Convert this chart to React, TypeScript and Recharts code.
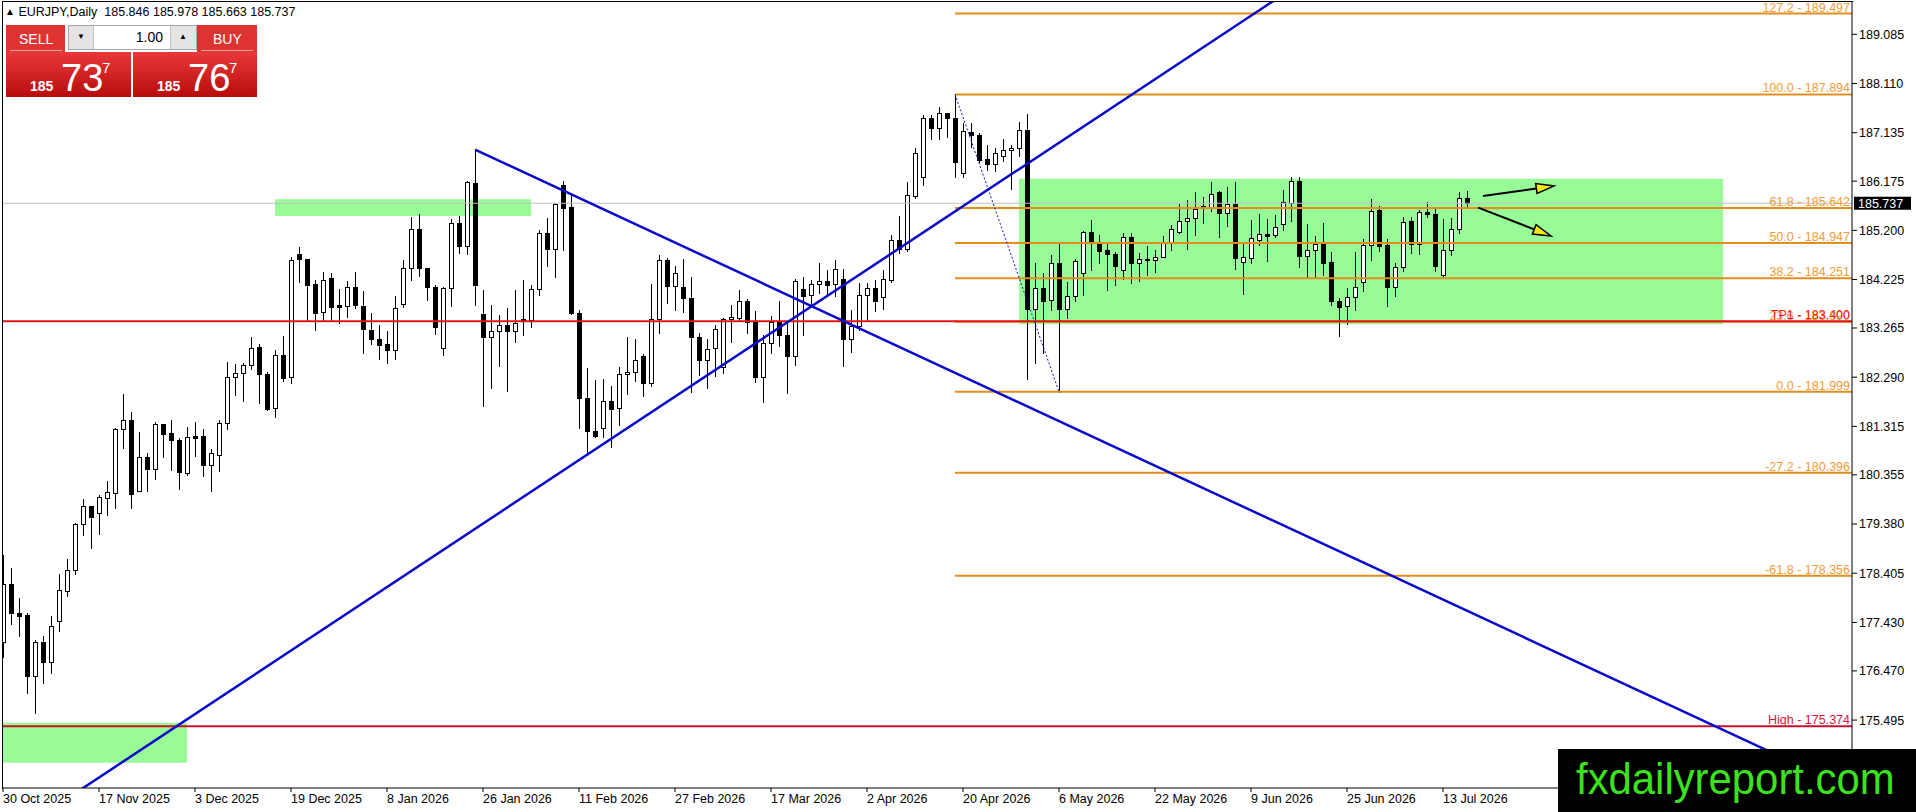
import React from 'react';
import { ComposedChart, Bar, XAxis, YAxis, ReferenceLine, ReferenceArea } from 'recharts';

// EURJPY daily candles, bar 0 = 30 Oct 2025
const opens = [
  177.05, 178.19, 177.61, 177.58, 176.36, 177.04, 176.65, 177.46, 178.05, 178.46, 179.39, 179.73, 179.59, 179.89, 180.0, 181.26,
  181.45, 180.03, 180.7, 180.48, 181.36, 181.18, 181.04, 180.4, 181.12, 181.12, 180.54, 180.75, 181.38, 182.3, 182.38, 182.54,
  182.88, 182.35, 181.67, 182.73, 182.29, 184.73, 184.63, 184.13, 183.59, 184.26, 183.72, 183.71, 184.07, 183.71, 183.22, 183.04,
  182.94, 182.82, 183.74, 184.45, 185.22, 184.45, 184.08, 182.86, 184.05, 185.35, 184.88, 186.13, 183.54, 183.09, 183.2, 183.32,
  183.2, 183.44, 183.42, 184.04, 185.14, 184.84, 186.1, 185.67, 183.57, 181.87, 181.23, 181.28, 181.82, 181.67, 182.35, 182.4,
  182.7, 182.18, 183.44, 184.61, 184.1, 184.07, 183.85, 183.09, 182.64, 182.86, 182.5, 183.44, 183.47, 183.8, 183.39, 182.3,
  182.97, 183.39, 183.13, 182.7, 184.04, 183.91, 184.13, 184.2, 184.13, 184.23, 183.04, 183.3, 183.92, 184.05, 183.87, 184.22,
  185.01, 184.84, 185.88, 186.26, 187.42, 187.22, 187.52, 187.42, 186.33, 187.14, 187.08, 186.61, 186.52, 186.67, 186.8, 186.84,
  187.19, 183.65, 184.05, 183.81, 184.55, 183.65, 183.9, 184.35, 185.16, 184.94, 184.81, 184.74, 184.41, 185.06, 184.55, 184.64,
  184.62, 184.665, 184.94, 185.17, 185.38, 185.44, 185.66, 185.66, 185.95, 185.55, 185.72, 184.58, 184.66, 185.01, 185.12, 185.1,
  185.32, 185.75, 186.17, 184.7, 184.82, 184.93, 184.57, 183.79, 183.7, 183.87, 184.18, 184.9, 185.6, 184.91, 184.08, 184.48,
  185.38, 184.93, 185.56, 185.52, 184.31, 184.82, 185.22, 185.846,
];
const highs = [
  178.77, 178.51, 177.91, 177.62, 177.08, 177.16, 177.56, 178.39, 178.68, 179.41, 179.87, 179.73, 179.95, 180.23, 181.28, 181.96,
  181.6, 181.2, 180.78, 181.4, 181.36, 181.45, 181.08, 181.3, 181.4, 181.26, 180.87, 181.44, 182.59, 182.56, 182.58, 183.08,
  182.95, 182.4, 182.83, 183.11, 184.68, 184.86, 184.63, 184.22, 184.37, 184.35, 184.03, 184.19, 184.37, 183.99, 183.57, 183.32,
  183.2, 183.9, 184.61, 185.47, 185.52, 184.45, 184.12, 184.08, 185.42, 185.48, 186.18, 186.8, 184.02, 183.73, 183.53, 183.67,
  184.02, 184.22, 184.12, 185.21, 185.44, 185.75, 186.18, 185.9, 183.62, 182.47, 182.23, 182.25, 182.11, 182.5, 183.09, 183.05,
  182.75, 184.13, 184.71, 184.65, 184.49, 184.63, 184.28, 183.16, 183.04, 183.32, 183.47, 183.72, 184.02, 183.83, 183.61, 183.13,
  183.5, 183.79, 183.36, 184.23, 184.28, 184.22, 184.56, 184.41, 184.61, 184.43, 183.62, 184.15, 184.15, 184.22, 184.41, 185.11,
  185.48, 186.16, 186.83, 187.49, 187.49, 187.65, 187.53, 187.894, 187.32, 187.32, 187.12, 186.89, 186.83, 187.02, 186.89, 187.35,
  187.51, 184.55, 184.36, 184.71, 184.97, 184.18, 184.64, 185.19, 185.4, 185.11, 184.97, 184.77, 185.14, 185.15, 184.76, 184.89,
  184.81, 185.09, 185.31, 185.73, 185.81, 185.95, 185.87, 186.16, 185.97, 186.05, 186.16, 184.93, 185.4, 185.52, 185.42, 185.5,
  186.0, 186.26, 186.26, 185.33, 185.09, 185.35, 184.78, 183.85, 184.05, 184.78, 185.03, 185.82, 185.68, 185.02, 184.55, 185.47,
  185.47, 185.6, 185.77, 185.62, 185.42, 185.44, 185.95, 185.978,
];
const lows = [
  176.75, 177.39, 177.17, 176.04, 175.64, 176.22, 176.43, 177.27, 177.95, 178.39, 179.17, 178.91, 179.19, 179.55, 179.7, 180.89,
  179.7, 180.03, 180.04, 180.28, 180.7, 180.45, 180.08, 180.35, 180.73, 180.34, 180.04, 180.44, 181.27, 181.94, 181.82, 182.45,
  181.77, 181.64, 181.51, 182.22, 182.18, 184.18, 183.42, 183.22, 183.42, 183.42, 183.36, 183.48, 183.66, 182.76, 182.95, 182.66,
  182.58, 182.66, 183.69, 184.22, 184.29, 183.82, 183.15, 182.73, 183.71, 184.76, 184.74, 183.73, 181.72, 182.07, 182.52, 182.02,
  182.98, 183.13, 183.29, 183.92, 184.49, 184.28, 184.81, 183.55, 181.28, 180.75, 181.1, 181.11, 180.91, 181.34, 181.96, 182.22,
  181.92, 182.12, 183.16, 183.77, 183.63, 183.59, 182.0, 182.33, 182.07, 182.31, 182.37, 182.99, 183.42, 183.16, 182.2, 181.8,
  182.76, 182.91, 181.98, 182.53, 183.13, 183.7, 183.95, 183.92, 183.89, 182.51, 182.78, 183.22, 183.42, 183.61, 183.65, 184.17,
  184.76, 184.8, 185.85, 186.1, 187.02, 187.02, 187.04, 186.26, 186.26, 186.86, 186.56, 186.4, 186.38, 186.58, 186.01, 186.67,
  182.25, 182.58, 182.76, 183.62, 181.999, 183.46, 183.79, 183.92, 184.41, 184.56, 184.02, 184.12, 184.23, 184.15, 184.2, 184.31,
  184.38, 184.665, 184.81, 185.14, 184.84, 185.11, 185.34, 185.59, 185.06, 185.29, 184.44, 183.94, 184.55, 184.9, 184.6, 185.07,
  185.21, 185.38, 184.48, 184.27, 184.27, 184.32, 183.72, 183.11, 183.34, 183.63, 184.0, 184.61, 184.8, 183.7, 183.89, 184.4,
  184.76, 184.73, 185.47, 184.4, 184.29, 184.71, 185.14, 185.663,
];
const closes = [
  178.19, 177.62, 177.56, 176.36, 177.04, 176.65, 177.36, 178.07, 178.47, 179.39, 179.73, 179.51, 179.91, 180.01, 181.26, 181.45,
  179.98, 180.7, 180.48, 181.36, 181.17, 181.05, 180.42, 181.1, 181.09, 180.54, 180.78, 181.38, 182.3, 182.38, 182.54, 182.86,
  182.35, 181.66, 182.73, 182.28, 184.61, 184.64, 184.12, 183.57, 184.22, 183.69, 183.69, 184.07, 183.73, 183.24, 183.04, 182.93,
  182.82, 183.67, 184.45, 185.22, 184.45, 184.07, 183.28, 184.05, 185.35, 184.88, 186.15, 184.12, 183.09, 183.2, 183.32, 183.2,
  183.36, 183.42, 184.04, 185.14, 184.84, 185.72, 185.65, 183.57, 181.87, 181.23, 181.12, 181.82, 181.65, 182.35, 182.4, 182.63,
  182.18, 183.44, 184.61, 184.1, 184.35, 183.85, 183.09, 182.64, 182.84, 183.24, 183.44, 183.48, 183.8, 183.39, 182.29, 182.97,
  183.39, 183.13, 182.7, 184.2, 183.9, 184.13, 184.19, 184.12, 184.43, 183.04, 183.3, 183.92, 184.05, 183.79, 184.23, 185.01,
  184.84, 185.91, 186.73, 187.42, 187.22, 187.52, 187.42, 186.56, 187.16, 187.08, 186.59, 186.52, 186.73, 186.79, 186.84, 187.19,
  183.65, 184.05, 183.79, 184.55, 183.65, 183.9, 184.6, 185.16, 184.96, 184.8, 184.74, 184.49, 185.07, 184.55, 184.64, 184.62,
  184.665, 184.94, 185.22, 185.39, 185.44, 185.63, 185.68, 185.93, 185.55, 185.72, 184.66, 184.67, 185.04, 185.12, 185.09, 185.26,
  185.76, 186.17, 184.7, 184.82, 184.92, 184.56, 183.79, 183.69, 183.87, 184.07, 184.9, 185.59, 184.89, 184.08, 184.48, 185.37,
  184.93, 185.56, 185.52, 184.49, 184.82, 185.22, 185.85, 185.737,
];

const dateTickBars = [0, 12, 24, 36, 48, 60, 72, 84, 96, 108, 120, 132, 144, 156, 168, 180];
const dateTickLabels = [
  '30 Oct 2025', '17 Nov 2025', '3 Dec 2025', '19 Dec 2025', '8 Jan 2026', '26 Jan 2026', '11 Feb 2026', '27 Feb 2026',
  '17 Mar 2026', '2 Apr 2026', '20 Apr 2026', '6 May 2026', '22 May 2026', '9 Jun 2026', '25 Jun 2026', '13 Jul 2026',
];
const priceTicks = [
  175.495, 176.47, 177.43, 178.405, 179.38, 180.355, 181.315, 182.29, 183.265, 184.225, 185.2, 186.175, 187.135, 188.11, 189.085,
];

// fibonacci drawn from bar 119 high to bar 132 low
const fibNames = ['127.2', '100.0', '61.8', '50.0', '38.2', '23.6', '0.0', '-27.2', '-61.8'];
const fibPrices = [189.497, 187.894, 185.642, 184.947, 184.251, 183.39, 181.999, 180.396, 178.356];

// rectangles: [from bar, to bar], [low, high]
const zoneBars = [[34, 66], [127, 215], [-0.125, 23]];
const zonePrices = [[185.485, 185.815], [183.34, 186.22], [174.65, 175.44]];

// trend lines and arrows: [bar a, bar b], [price a, price b]
const trendBars = [[59, 240], [-10, 170]];
const trendPrices = [[186.8, 173.46], [172.05, 190.92]];
const arrowBars = [[185.0, 193.9], [184.4, 193.5]];
const arrowPrices = [[185.88, 186.08], [185.65, 185.09]];

const lastPrice = 185.737;
const tp1 = 183.4;
const highLevel = 175.374;

const X_MIN = -0.125;
const X_MAX = 231.125;
const Y_MIN = 174.149;
const Y_MAX = 189.725;

const FONT = '"Liberation Sans", Arial, sans-serif';

const data = opens.map((o, i) => ({
  i,
  o,
  h: highs[i],
  l: lows[i],
  c: closes[i],
  range: [lows[i], highs[i]],
}));

function Candle(props: any) {
  const { x, y, width, height, payload } = props;
  if (!payload) return null;
  const { o, h, l, c } = payload;
  const top = Math.min(y, y + height);
  const span = Math.abs(height);
  const k = h > l ? span / (h - l) : 0;
  const py = (v: number) => top + (h - v) * k;
  const cx = Math.round(x + width / 2);
  const bTop = Math.round(py(Math.max(o, c)));
  const bBot = Math.round(py(Math.min(o, c)));
  const bh = Math.max(bBot - bTop, 1);
  return (
    <g>
      <line x1={cx + 0.5} x2={cx + 0.5} y1={Math.round(top)} y2={Math.round(top + span) + 1} stroke="#000" strokeWidth={1} />
      {c >= o ? (
        <rect x={cx - 1.5} y={bTop + 0.5} width={4} height={bh} fill="#fff" stroke="#000" strokeWidth={1} />
      ) : (
        <rect x={cx - 2} y={bTop} width={5} height={bh + 1} fill="#000" />
      )}
    </g>
  );
}

const DateTick = (props: any) => {
  const { x, y, payload } = props;
  const idx = dateTickBars.indexOf(payload.value);
  return (
    <text x={x} y={y} dy="0.71em" textAnchor="start" fontSize={12.5} fill="#000" fontFamily={FONT}>
      {dateTickLabels[idx]}
    </text>
  );
};

const levelShape = (color: string, text: string, textColor: string) => (p: any) => (
  <g>
    <line x1={p.x1} y1={p.y1} x2={p.x2} y2={p.y2} stroke={color} strokeWidth={2} />
    <text x={1850} y={p.y1 - 2} textAnchor="end" fill={textColor} fontSize={12.5} fontFamily={FONT}>
      {text}
    </text>
  </g>
);

const arrowShape = (p: any) => {
  const dx = p.x2 - p.x1;
  const dy = p.y2 - p.y1;
  const len = Math.sqrt(dx * dx + dy * dy);
  const ux = dx / len;
  const uy = dy / len;
  const bx = p.x2 - ux * 18;
  const by = p.y2 - uy * 18;
  const pts = `${p.x2},${p.y2} ${bx - uy * 5},${by + ux * 5} ${bx + uy * 5},${by - ux * 5}`;
  return (
    <g>
      <line x1={p.x1} y1={p.y1} x2={bx} y2={by} stroke="#000" strokeWidth={2} />
      <polygon points={pts} fill="#f5e616" stroke="#000" strokeWidth={1.5} />
    </g>
  );
};

const priceTagShape = (p: any) => (
  <g>
    <line x1={p.x1} y1={p.y1} x2={p.x2} y2={p.y2} stroke="#c0c0c0" strokeWidth={1} />
    <rect x={1854} y={p.y1 - 6.5} width={57} height={13} fill="#000" />
    <text x={1858} y={p.y1 + 4.5} fill="#fff" fontSize={12.5} fontFamily={FONT}>
      {lastPrice.toFixed(3)}
    </text>
  </g>
);

function TradePanel() {
  const red = 'linear-gradient(#e8393a, #b80c0c)';
  const big = { position: 'absolute' as const, color: '#fff', fontFamily: FONT, lineHeight: 1 };
  const priceBox = (left: number, width: number, small: string, main: string, sup: string) => (
    <div style={{ position: 'absolute', left, top: 52, width, height: 45, background: red }}>
      <span style={{ ...big, left: 24, top: 27, fontSize: 14, fontWeight: 700 }}>{small}</span>
      <span style={{ ...big, left: 55, top: 7, fontSize: 38 }}>{main}</span>
      <span style={{ ...big, left: 96, top: 8, fontSize: 15 }}>{sup}</span>
    </div>
  );
  return (
    <div style={{ position: 'absolute', left: 0, top: 0 }}>
      <div style={{ position: 'absolute', left: 5, top: 5, fontSize: 12.5, fontFamily: FONT, whiteSpace: 'pre', color: '#000' }}>
        <span style={{ fontSize: 10, verticalAlign: 1 }}>▲</span> EURJPY,Daily  185.846 185.978 185.663 185.737
      </div>
      <div style={{ position: 'absolute', left: 6, top: 25, width: 59, height: 27, background: '#dd3331' }}>
        <div style={{ position: 'absolute', left: 4, top: 25, width: 52, height: 1, background: '#f3a0a0' }} />
        <span style={{ ...big, left: 13, top: 7, fontSize: 14 }}>SELL</span>
      </div>
      <div style={{ position: 'absolute', left: 68, top: 25, width: 127, height: 23, border: '1px solid #a8a8a8', background: '#fff' }}>
        <div style={{ position: 'absolute', left: 0, top: 0, width: 24, height: 23, background: '#e4e4e4', borderRight: '1px solid #c0c0c0' }}>
          <span style={{ position: 'absolute', left: 8, top: 6, fontSize: 8 }}>▼</span>
        </div>
        <span style={{ position: 'absolute', right: 33, top: 4, fontSize: 14, fontFamily: FONT, lineHeight: 1 }}>1.00</span>
        <div style={{ position: 'absolute', right: 0, top: 0, width: 25, height: 23, background: '#e4e4e4', borderLeft: '1px solid #c0c0c0' }}>
          <span style={{ position: 'absolute', left: 8, top: 6, fontSize: 8 }}>▲</span>
        </div>
      </div>
      <div style={{ position: 'absolute', left: 197, top: 25, width: 60, height: 27, background: '#dd3331' }}>
        <div style={{ position: 'absolute', left: 4, top: 25, width: 52, height: 1, background: '#f3a0a0' }} />
        <span style={{ ...big, left: 16, top: 7, fontSize: 14 }}>BUY</span>
      </div>
      {priceBox(6, 125, '185', '73', '7')}
      {priceBox(133, 124, '185', '76', '7')}
    </div>
  );
}

export default function App() {
  return (
    <div style={{ position: 'absolute', left: 0, top: 0, width: 1916, height: 812, background: '#fff', overflow: 'hidden' }}>
      <ComposedChart
        width={1916}
        height={812}
        data={data}
        margin={{ top: 2, right: 0, bottom: 0, left: 2 }}
        style={{ fontFamily: FONT }}
      >
        <XAxis
          dataKey="i"
          type="number"
          domain={[X_MIN, X_MAX]}
          allowDataOverflow
          ticks={dateTickBars}
          interval={0}
          height={24}
          tick={DateTick}
          tickSize={4}
          tickMargin={2}
          axisLine={{ stroke: '#000' }}
          tickLine={{ stroke: '#000' }}
        />
        <YAxis
          orientation="right"
          type="number"
          domain={[Y_MIN, Y_MAX]}
          allowDataOverflow
          ticks={priceTicks}
          interval={0}
          width={64}
          tickSize={5}
          tickMargin={2}
          tickFormatter={(v: number) => v.toFixed(3)}
          tick={{ fontSize: 12.5, fill: '#000', fontFamily: FONT }}
          axisLine={{ stroke: '#000' }}
          tickLine={{ stroke: '#000' }}
        />
        {zoneBars.map((b, k) => (
          <ReferenceArea
            key={`z${k}`}
            x1={b[0]}
            x2={b[1]}
            y1={zonePrices[k][0]}
            y2={zonePrices[k][1]}
            fill="#98fb98"
            fillOpacity={1}
            stroke="none"
            ifOverflow="visible"
          />
        ))}
        <ReferenceLine y={lastPrice} shape={priceTagShape} ifOverflow="visible" />
        <Bar dataKey="range" barSize={5} shape={Candle} isAnimationActive={false} />
        {fibPrices.map((p, k) => (
          <ReferenceLine
            key={`f${k}`}
            segment={[{ x: 119, y: p }, { x: X_MAX, y: p }]}
            shape={levelShape('#e38e1c', `${fibNames[k]} - ${p.toFixed(3)}`, '#f29b38')}
            ifOverflow="visible"
          />
        ))}
        <ReferenceLine
          segment={[{ x: X_MIN, y: tp1 }, { x: X_MAX, y: tp1 }]}
          shape={levelShape('#e31414', `TP1 - ${tp1.toFixed(3)}`, '#ee1c1c')}
          ifOverflow="visible"
        />
        <ReferenceLine
          segment={[{ x: X_MIN, y: highLevel }, { x: X_MAX, y: highLevel }]}
          shape={levelShape('#c8102e', `High - ${highLevel.toFixed(3)}`, '#dc143c')}
          ifOverflow="visible"
        />
        <ReferenceLine
          segment={[{ x: 119, y: 187.894 }, { x: 132, y: 181.999 }]}
          stroke="#1010c8"
          strokeWidth={1}
          strokeDasharray="2 2"
          ifOverflow="visible"
        />
        {trendBars.map((b, k) => (
          <ReferenceLine
            key={`t${k}`}
            segment={[{ x: b[0], y: trendPrices[k][0] }, { x: b[1], y: trendPrices[k][1] }]}
            stroke="#0a0ac8"
            strokeWidth={2.5}
            ifOverflow="hidden"
          />
        ))}
        {arrowBars.map((b, k) => (
          <ReferenceLine
            key={`a${k}`}
            segment={[{ x: b[0], y: arrowPrices[k][0] }, { x: b[1], y: arrowPrices[k][1] }]}
            shape={arrowShape}
            ifOverflow="visible"
          />
        ))}
      </ComposedChart>
      <div
        style={{
          position: 'absolute',
          left: 2,
          top: 1,
          width: 1850,
          height: 787,
          borderLeft: '1px solid #000',
          borderTop: '1px solid #000',
          pointerEvents: 'none',
        }}
      />
      <TradePanel />
      <div style={{ position: 'absolute', left: 1558, top: 749, width: 358, height: 63, background: '#000', overflow: 'hidden' }}>
        <div
          style={{
            position: 'absolute',
            left: 18,
            top: 5,
            fontSize: 45,
            lineHeight: '50px',
            color: '#3ce21e',
            fontFamily: FONT,
            whiteSpace: 'nowrap',
            transform: 'scaleX(0.93)',
            transformOrigin: 'left top',
          }}
        >
          fxdailyreport.com
        </div>
      </div>
    </div>
  );
}
